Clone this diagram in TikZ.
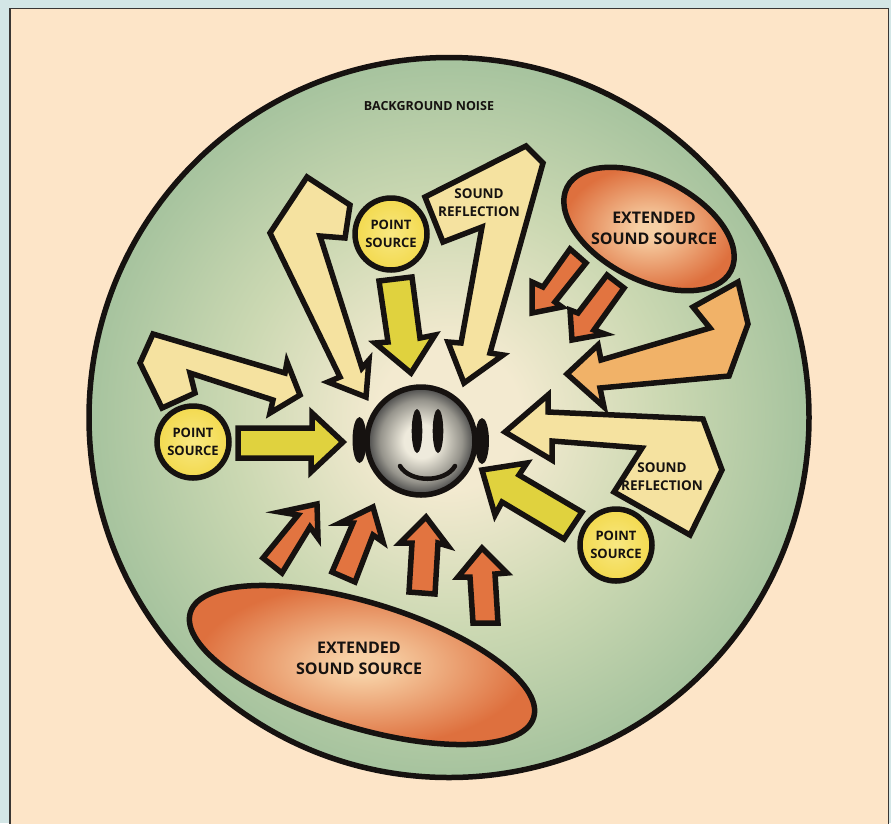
\documentclass[tikz,border=0pt]{standalone}
\usepackage{fontspec}
\setmainfont{Open Sans}
\definecolor{pagebg}{RGB}{211,230,230}
\definecolor{peach}{RGB}{253,229,200}
\definecolor{inkc}{RGB}{22,18,16}
\definecolor{pale}{RGB}{245,226,160}
\definecolor{yel}{RGB}{224,210,62}
\definecolor{org}{RGB}{226,116,64}
\definecolor{lorg}{RGB}{241,178,104}
\definecolor{fc}{RGB}{243,234,208}
\definecolor{fm}{RGB}{203,216,178}
\definecolor{fe}{RGB}{166,195,158}
\definecolor{oc}{RGB}{247,208,165}
\definecolor{oe}{RGB}{222,112,62}
\definecolor{pc}{RGB}{248,232,130}
\definecolor{pe}{RGB}{243,218,80}
\definecolor{hc}{RGB}{238,234,220}
\definecolor{hm}{RGB}{150,148,140}
\definecolor{he}{RGB}{70,70,70}
\pgfdeclareradialshading{fieldshade}{\pgfpoint{0bp}{0bp}}{color(0bp)=(fc);color(5bp)=(fc);color(15bp)=(fm);color(25bp)=(fe);color(50bp)=(fe)}
\pgfdeclareradialshading{ovalshade}{\pgfpoint{0bp}{0bp}}{color(0bp)=(oc);color(3bp)=(oc);color(23bp)=(oe);color(50bp)=(oe)}
\pgfdeclareradialshading{pointshade}{\pgfpoint{0bp}{0bp}}{color(0bp)=(pc);color(24bp)=(pe);color(50bp)=(pe)}
\pgfdeclareradialshading{headshade}{\pgfpoint{0bp}{0bp}}{color(0bp)=(hc);color(8bp)=(hc);color(19bp)=(hm);color(25bp)=(he);color(50bp)=(he)}
\tikzset{
  blk/.style={draw=inkc,line width=5.5pt,line join=miter,miter limit=8},
  paleA/.style={blk,fill=pale},
  yelA/.style={blk,fill=yel},
  orgA/.style={blk,fill=org},
  lorgA/.style={blk,fill=lorg},
  lbl/.style={text=inkc,font=\bfseries,align=center,inner sep=0pt},
  ovallbl/.style={lbl,font=\bfseries\fontsize{16}{20.5}\selectfont},
  refllbl/.style={lbl,font=\bfseries\fontsize{13.5}{18}\selectfont},
  pointnode/.style={circle,blk,minimum size=72pt,inner sep=0pt,shading=pointshade,text=inkc,font=\bfseries\fontsize{13}{17.5}\selectfont,align=center},
}
\begin{document}
\begin{tikzpicture}[x=1pt,y=-1pt]
\useasboundingbox (0,0) rectangle (891,823);
\fill[pagebg] (0,0) rectangle (891,823);
\draw[fill=peach,draw=inkc!85,line width=1.5pt] (10,8.5) rectangle (888.5,830);
% field
\draw[blk,shading=fieldshade] (449,417.5) circle (360);
\node[lbl,font=\bfseries\fontsize{12.5}{15}\selectfont] (bg) at (429,106) {BACKGROUND NOISE};
% ovals
\draw[blk,shading=ovalshade,rotate around={-27:(649,229)}] (649,229) ellipse [x radius=92,y radius=51];
\node[ovallbl] (ext1) at (654,228.5) {EXTENDED\\SOUND SOURCE};
\draw[blk,shading=ovalshade,rotate around={-17:(362,665)}] (362,665) ellipse [x radius=179.5,y radius=62.5];
\node[ovallbl] (ext2) at (359,658.5) {EXTENDED\\SOUND SOURCE};
% pale reflection arrows
\draw[paleA] (307,177)--(350,205)--(345,238)--(320,236)--(362,368)--(369,360)--(366,397)--(328,382)--(340,377)--(270,233)--cycle;
\draw[paleA] (153,334)--(285,373)--(287,362)--(300,395)--(270,413)--(273,400)--(190,373)--(195,393)--(162,408)--(140,363)--cycle;
\draw[paleA] (526,146)--(543,163)--(490,353)--(503,355)--(464,383)--(448,342)--(461,343)--(482,227)--(443,242)--(425,197)--cycle;
\draw[paleA] (505,432)--(548,395)--(548,412)--(703,419)--(722,470)--(690,535)--(614,492)--(642,448)--(552,441)--(552,460)--cycle;
\draw[lorgA] (738,282)--(748,324)--(729,376)--(600,388)--(604,407)--(567,374)--(598,345)--(601,360)--(710,328)--(693,307)--cycle;
% yellow arrows
\draw[yelA] (238,428)--(312,428)--(312,413)--(343,442)--(311,472)--(311,458)--(238,458)--cycle;
\draw[yelA] (379,281)--(412,277)--(420,338)--(435,335)--(411,373)--(375,343)--(388,342)--cycle;
\draw[yelA] (482,470)--(527,463)--(519,475)--(582,512)--(564,539)--(502,502)--(495,515)--cycle;
% small orange arrows
\draw[orgA] (570,249)--(586,263)--(555,302)--(562,307)--(532,313)--(532,282)--(543,287)--cycle;
\draw[orgA] (607,275)--(624,288)--(594,330)--(605,334)--(572,340)--(570,310)--(578,313)--cycle;
\draw[orgA] (263,558)--(282,573)--(310,527)--(318,538)--(317,504)--(280,512)--(298,515)--cycle;
\draw[orgA] (332,572)--(355,582)--(373,535)--(383,542)--(373,507)--(340,523)--(353,523)--cycle;
\draw[orgA] (409,592)--(435,594)--(438,543)--(448,546)--(426,517)--(400,543)--(412,543)--cycle;
\draw[orgA] (473,623)--(498,623)--(495,574)--(507,573)--(482,548)--(458,577)--(470,577)--cycle;
% point sources
\node[pointnode] (p1) at (193,442) {POINT\\SOURCE};
\node[pointnode] (p2) at (391,234) {POINT\\SOURCE};
\node[pointnode] (p3) at (616,545) {POINT\\SOURCE};
% labels
\node[refllbl] (r1) at (479,203) {SOUND\\REFLECTION};
\node[refllbl] (r2) at (662,477) {SOUND\\REFLECTION};
% head
\fill[inkc] (359.5,440) ellipse [x radius=7,y radius=23];
\fill[inkc] (482,441) ellipse [x radius=7,y radius=23];
\draw[blk,shading=headshade] (421,441) circle (54);
\fill[inkc] (417,431) ellipse [x radius=5.3,y radius=22];
\fill[inkc] (438,431) ellipse [x radius=5.3,y radius=22];
\draw[inkc,line width=4.5pt,line cap=round] (400,466) .. controls (410,483) and (445,483) .. (455,466);
\end{tikzpicture}
\end{document}
